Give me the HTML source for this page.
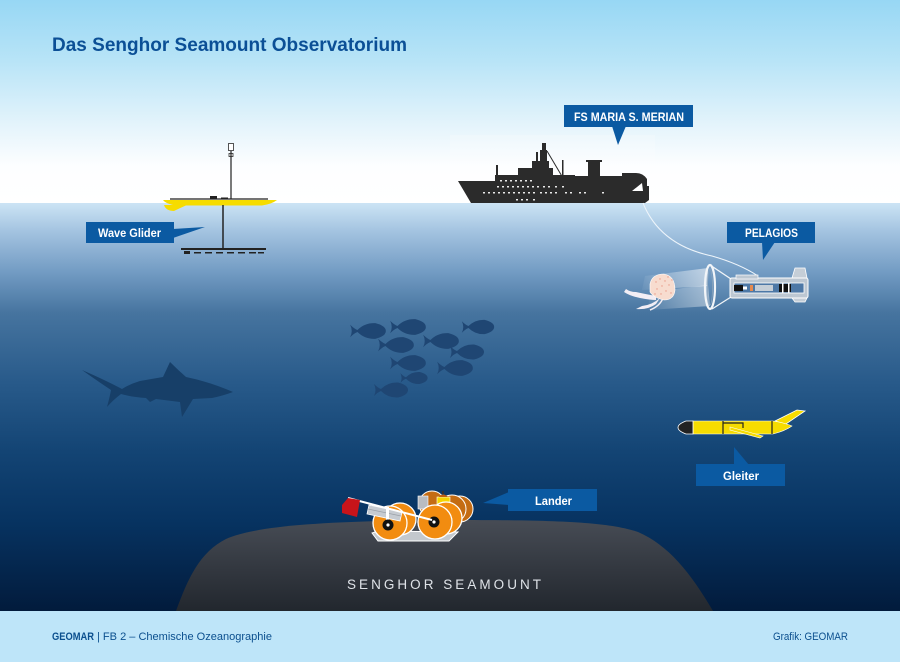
<!DOCTYPE html>
<html><head><meta charset="utf-8"><style>
html,body{margin:0;padding:0;width:900px;height:662px;overflow:hidden;background:#fff}
svg{display:block}
text{font-family:"Liberation Sans",sans-serif}
</style></head><body>
<svg width="900" height="662" viewBox="0 0 900 662" xmlns="http://www.w3.org/2000/svg">
<defs>
<linearGradient id="sky" x1="0" y1="0" x2="0" y2="1">
<stop offset="0" stop-color="#97d7f4"/>
<stop offset="0.3" stop-color="#b8e4f7"/>
<stop offset="0.6" stop-color="#e2f3fb"/>
<stop offset="0.82" stop-color="#fdfeff"/>
<stop offset="1" stop-color="#ffffff"/>
</linearGradient>
<linearGradient id="sea" x1="0" y1="203" x2="0" y2="611" gradientUnits="userSpaceOnUse">
<stop offset="0" stop-color="#cce4f5"/>
<stop offset="0.07" stop-color="#a3c3e0"/>
<stop offset="0.17" stop-color="#729bc3"/>
<stop offset="0.27" stop-color="#46749f"/>
<stop offset="0.44" stop-color="#285a8a"/>
<stop offset="0.61" stop-color="#134474"/>
<stop offset="0.78" stop-color="#073361"/>
<stop offset="1" stop-color="#021b3c"/>
</linearGradient>
<linearGradient id="mount" x1="0" y1="520" x2="0" y2="611" gradientUnits="userSpaceOnUse">
<stop offset="0" stop-color="#474c55"/>
<stop offset="0.5" stop-color="#343941"/>
<stop offset="1" stop-color="#22272e"/>
</linearGradient>
<linearGradient id="beam" x1="1" y1="0" x2="0" y2="0">
<stop offset="0" stop-color="#ffffff" stop-opacity="0.55"/>
<stop offset="1" stop-color="#ffffff" stop-opacity="0.05"/>
</linearGradient>
<path id="fish" d="M-17,-6 Q-13,-2 -10,-1 Q-3,-8 7,-7.5 Q17,-5 17,0 Q17,5 7,7.5 Q-3,8 -10,1 Q-13,2 -17,6 Q-14,0 -17,-6 Z"/>
</defs>

<!-- sky -->
<rect x="0" y="0" width="900" height="203" fill="url(#sky)"/>
<rect x="450" y="135" width="205" height="68" fill="#ffffff" opacity="0.2"/>
<!-- sea -->
<rect x="0" y="203" width="900" height="408" fill="url(#sea)"/>

<!-- title -->
<text x="52" y="51" font-size="19" font-weight="bold" fill="#0b4f96" textLength="355" lengthAdjust="spacingAndGlyphs">Das Senghor Seamount Observatorium</text>

<!-- seamount -->
<path d="M176,611 C188,578 200,552 226,539 C258,525 330,521 450,520 C560,520 608,522 638,532 C668,545 690,572 713,611 Z" fill="url(#mount)"/>
<text x="347" y="589" font-size="13.5" fill="#dfe3e8" textLength="194" lengthAdjust="spacing">SENGHOR SEAMOUNT</text>

<!-- shark -->
<path d="M82,370 Q105,380 122,389 Q130,384 140,381 L163,377 L170,362 Q178,370 186,377 Q210,382 233,392 Q222,396 212,398 L193,399 L182,417 L180,402 L156,399 L150,402 L146,398 Q132,397 121,394 Q113,400 107,407 Q110,396 111,390 Q96,380 82,370 Z" fill="#173f68"/>

<!-- fish -->
<g fill="#1f4673">
<use href="#fish" transform="translate(368,331) scale(1.05)"/>
<use href="#fish" transform="translate(408,327) scale(1.05)"/>
<use href="#fish" transform="translate(478,327) scale(0.95)"/>
<use href="#fish" transform="translate(396,345) scale(1.05)"/>
<use href="#fish" transform="translate(441,341) scale(1.05)"/>
<use href="#fish" transform="translate(467,352) scale(1.0)"/>
<use href="#fish" transform="translate(408,363) scale(1.05)"/>
<use href="#fish" transform="translate(455,368) scale(1.05)"/>
<use href="#fish" transform="translate(414,378) scale(0.8)"/>
<use href="#fish" transform="translate(391,390) scale(1.0)"/>
</g>

<!-- ship -->
<g fill="#2b2b2b">
<path d="M458,181 L495,181 L495,175 L518,175 L518,168 L532,168 L532,161 L540,161 L540,150 L542,150 L542,143 L546,143 L546,150 L547,150 L547,161 L549,161 L549,168 L553,168 L553,175 L575,175 L575,176 L588,176 L588,162 L586,162 L586,160 L602,160 L602,162 L600,162 L600,176 L622,176 L622,173 L636,173 Q643,173 647,179 L647,186 L649,186 L649,200 L645,203 L471,203 Z"/>
<rect x="496" y="165" width="2" height="10"/>
<rect x="536" y="152" width="2" height="9"/>
<rect x="562" y="160" width="1.5" height="16"/>
</g>
<line x1="547" y1="151" x2="563" y2="178" stroke="#2b2b2b" stroke-width="1"/>
<path d="M632,191 L642,183 L643,191 Z" fill="#ffffff"/>
<g fill="#e8e8e8">
<rect x="500" y="180" width="2" height="1.5"/><rect x="505" y="180" width="2" height="1.5"/><rect x="510" y="180" width="2" height="1.5"/><rect x="515" y="180" width="2" height="1.5"/><rect x="520" y="180" width="2" height="1.5"/><rect x="525" y="180" width="2" height="1.5"/><rect x="530" y="180" width="2" height="1.5"/>
<rect x="497" y="186" width="2" height="1.5"/><rect x="502" y="186" width="2" height="1.5"/><rect x="507" y="186" width="2" height="1.5"/><rect x="512" y="186" width="2" height="1.5"/><rect x="517" y="186" width="2" height="1.5"/><rect x="522" y="186" width="2" height="1.5"/><rect x="527" y="186" width="2" height="1.5"/><rect x="532" y="186" width="2" height="1.5"/><rect x="537" y="186" width="2" height="1.5"/><rect x="543" y="186" width="2" height="1.5"/><rect x="548" y="186" width="2" height="1.5"/><rect x="555" y="186" width="2" height="1.5"/><rect x="562" y="186" width="2" height="1.5"/>
<rect x="483" y="192" width="2" height="1.5"/><rect x="488" y="192" width="2" height="1.5"/><rect x="493" y="192" width="2" height="1.5"/><rect x="498" y="192" width="2" height="1.5"/><rect x="503" y="192" width="2" height="1.5"/><rect x="508" y="192" width="2" height="1.5"/><rect x="513" y="192" width="2" height="1.5"/><rect x="518" y="192" width="2" height="1.5"/><rect x="523" y="192" width="2" height="1.5"/><rect x="528" y="192" width="2" height="1.5"/><rect x="533" y="192" width="2" height="1.5"/><rect x="540" y="192" width="2" height="1.5"/><rect x="545" y="192" width="2" height="1.5"/><rect x="550" y="192" width="2" height="1.5"/><rect x="555" y="192" width="2" height="1.5"/><rect x="565" y="192" width="2" height="1.5"/><rect x="570" y="192" width="2" height="1.5"/><rect x="579" y="192" width="2" height="1.5"/><rect x="584" y="192" width="2" height="1.5"/><rect x="602" y="192" width="2" height="1.5"/>
<rect x="516" y="199" width="2" height="1.5"/><rect x="521" y="199" width="2" height="1.5"/><rect x="526" y="199" width="2" height="1.5"/><rect x="533" y="199" width="2" height="1.5"/>
</g>

<!-- cable -->
<path d="M643,203 Q660,245 712,256 Q740,264 758,276" fill="none" stroke="#eef5fb" stroke-width="1"/>

<!-- wave glider -->
<g>
<rect x="228.5" y="143.5" width="5" height="7" fill="#fff" stroke="#2b2b2b" stroke-width="0.8"/>
<rect x="229" y="153.5" width="4" height="3" fill="#fff" stroke="#2b2b2b" stroke-width="0.8"/>
<line x1="231" y1="151" x2="231" y2="199" stroke="#222" stroke-width="1.2"/>
<line x1="170" y1="199" x2="268" y2="199" stroke="#222" stroke-width="1.2"/>
<rect x="210" y="196" width="7" height="3" fill="#222"/>
<rect x="221" y="197.5" width="7" height="1.5" fill="#222"/>
<path d="M163,200 L277,200 Q272,204 262,205.5 L176,205.5 Q166,204 163,200 Z" fill="#f6dc00"/>
<path d="M164,205 L187,205 Q180,208 174,211 Q166,211 164,205 Z" fill="#f6dc00"/>
<line x1="223" y1="205" x2="223" y2="248" stroke="#222" stroke-width="1.5"/>
<rect x="181" y="248" width="85" height="2" fill="#222"/>
<rect x="184" y="251" width="6" height="3" fill="#222"/>
<g fill="#222"><rect x="194" y="252" width="7" height="1.5"/><rect x="205" y="252" width="7" height="1.5"/><rect x="216" y="252" width="7" height="1.5"/><rect x="227" y="252" width="7" height="1.5"/><rect x="238" y="252" width="7" height="1.5"/><rect x="249" y="252" width="7" height="1.5"/><rect x="258" y="252" width="6" height="1.5"/></g>
</g>

<!-- pelagios beams and jellyfish -->
<path d="M708,268 L645,276 L642,290 L708,286 Z" fill="url(#beam)"/>
<path d="M708,285 L650,292 L648,310 L710,306 Z" fill="url(#beam)" opacity="0.8"/>
<g>
<path d="M656,296 Q645,294 636,292 Q630,292 626,289 L624,292 Q630,296 640,298 Q650,300 656,300 Z" fill="#f2eef5"/>
<path d="M660,298 Q652,305 642,306 L636,309 Q648,310 656,304 Z" fill="#f2eef5"/>
<path d="M663,298 Q660,306 650,310" fill="none" stroke="#f2eef5" stroke-width="1.5"/>
<path d="M650,284 Q652,274 664,274 Q675,276 675,290 Q674,300 664,300 Q654,298 650,292 Z" fill="#f7dccf" stroke="#fff" stroke-width="0.6"/>
<g fill="#e99a88"><circle cx="656" cy="282" r="0.7"/><circle cx="660" cy="279" r="0.7"/><circle cx="665" cy="281" r="0.7"/><circle cx="669" cy="285" r="0.7"/><circle cx="662" cy="286" r="0.7"/><circle cx="657" cy="289" r="0.7"/><circle cx="666" cy="291" r="0.7"/><circle cx="671" cy="293" r="0.7"/><circle cx="661" cy="294" r="0.7"/><circle cx="655" cy="294" r="0.7"/><circle cx="668" cy="277" r="0.7"/><circle cx="672" cy="280" r="0.7"/></g>
</g>

<!-- pelagios -->
<g>
<line x1="710" y1="265" x2="731" y2="279" stroke="#f2f5f8" stroke-width="1.3"/>
<line x1="712" y1="309" x2="731" y2="297" stroke="#f2f5f8" stroke-width="1.3"/>
<ellipse cx="710" cy="287" rx="5" ry="22" fill="none" stroke="#f2f5f8" stroke-width="2.2"/>
<ellipse cx="710" cy="287" rx="2.5" ry="18" fill="none" stroke="#8aa4bd" stroke-width="0.8"/>
<path d="M792,278 L795,268 L805,268 L807,278 Z" fill="#c5ced7" stroke="#fff" stroke-width="0.8"/>
<path d="M792,298 L795,302 L805,302 L807,298 Z" fill="#c5ced7" stroke="#fff" stroke-width="0.8"/>
<rect x="730" y="278" width="78" height="20" rx="2" fill="#bcc7d2" stroke="#fff" stroke-width="1"/>
<rect x="736" y="275" width="22" height="4" fill="#bcc7d2" stroke="#fff" stroke-width="0.7"/>
<rect x="734" y="283" width="70" height="10" fill="#4d78a6" stroke="#fff" stroke-width="0.8"/>
<rect x="755" y="285" width="18" height="6" fill="#c5ced7"/>
<rect x="734" y="285" width="9" height="6" fill="#111"/>
<rect x="743" y="286.5" width="4" height="3" fill="#fff"/>
<rect x="750" y="285" width="3" height="6" fill="#e58a50"/>
<rect x="779" y="284" width="12" height="8" fill="#111"/>
<rect x="782" y="283" width="1.5" height="10" fill="#fff"/>
<rect x="788" y="283" width="1.5" height="10" fill="#fff"/>
</g>

<!-- gleiter -->
<g>
<path d="M775,421 L797,410 L805,411 L786,424 Z" fill="#f6dc00" stroke="#fff" stroke-width="0.8"/>
<path d="M693,421 L773,421 Q785,423 792,426 Q785,431 773,434 L693,434 Z" fill="#f6dc00" stroke="#fff" stroke-width="0.6"/>
<path d="M693,421 L686,421 Q678,424 678,427.5 Q678,431 686,434 L693,434 Z" fill="#222" stroke="#fff" stroke-width="0.8"/>
<path d="M730,427 L763,436 L760,438 L730,430 Z" fill="#f6dc00" stroke="#fff" stroke-width="0.6"/>
<line x1="723" y1="421" x2="723" y2="434" stroke="#222" stroke-width="1.2"/>
<line x1="772" y1="421" x2="772" y2="434" stroke="#222" stroke-width="1.2"/>
<path d="M723,423 L743,423 L743,428" fill="none" stroke="#222" stroke-width="1.2"/>
</g>

<!-- lander -->
<g>
<path d="M372,533 L378,541 L449,541 L458,532 L378,531 Z" fill="#c3c8cd" stroke="#fff" stroke-width="1"/>
<circle cx="432" cy="504" r="13" fill="#c46c13" stroke="#fff" stroke-width="1"/>
<circle cx="460" cy="509" r="13" fill="#c46c13" stroke="#fff" stroke-width="1"/>
<circle cx="452" cy="509" r="14" fill="#c46c13" stroke="#fff" stroke-width="1"/>
<rect x="418" y="496" width="10" height="13" fill="#b9bcc0" stroke="#fff" stroke-width="0.6"/>
<rect x="437" y="497" width="13" height="9" fill="#f5d400" stroke="#fff" stroke-width="0.6"/>
<path d="M439,497 Q443,492 448,497 Z" fill="#c06010"/>
<rect x="442" y="491" width="2" height="3" fill="#333"/>
<circle cx="400" cy="519" r="16" fill="#f28c10" stroke="#fff" stroke-width="1.3"/>
<circle cx="390" cy="523" r="17" fill="#f28c10" stroke="#fff" stroke-width="1.3"/>
<circle cx="446" cy="518" r="16" fill="#f28c10" stroke="#fff" stroke-width="1.3"/>
<circle cx="435" cy="522" r="17" fill="#f28c10" stroke="#fff" stroke-width="1.3"/>
<path d="M369,505 L402,512 L400,521 L367,514 Z" fill="#c6cbd1" stroke="#fff" stroke-width="0.8"/>
<line x1="368" y1="509" x2="401" y2="516" stroke="#9aa0a8" stroke-width="0.7"/>
<rect x="386" y="507" width="3" height="18" fill="#fff"/>
<circle cx="388" cy="525" r="5.5" fill="#111"/><circle cx="388" cy="525" r="1.6" fill="#fff"/>
<circle cx="434" cy="522" r="5.5" fill="#111"/><circle cx="434" cy="522" r="1.6" fill="#fff"/>
<line x1="348" y1="498" x2="432" y2="520" stroke="#fff" stroke-width="2"/>
<path d="M342,505 L348,498 L360,500 L357,517 L342,513 Z" fill="#c8141a"/>
</g>

<!-- labels -->
<g fill="#0b5aa2">
<rect x="564" y="105" width="129" height="22"/>
<path d="M612,126 L626,126 L618,145 Z"/>
<rect x="727" y="222" width="88" height="21"/>
<path d="M762,242 L775,242 L763,260 Z"/>
<rect x="86" y="222" width="88" height="21"/>
<path d="M173,229 L205,227 L173,238 Z"/>
<rect x="508" y="489" width="89" height="22"/>
<path d="M509,492 L483,503 L509,505 Z"/>
<rect x="696" y="464" width="89" height="22"/>
<path d="M734,465 L734,447 L749,465 Z"/>
</g>
<g fill="#ffffff" font-size="12" font-weight="bold">
<text x="574" y="121" textLength="110" lengthAdjust="spacingAndGlyphs">FS MARIA S. MERIAN</text>
<text x="745" y="237" textLength="53" lengthAdjust="spacingAndGlyphs">PELAGIOS</text>
<text x="98" y="237" textLength="63" lengthAdjust="spacingAndGlyphs">Wave Glider</text>
<text x="535" y="505" textLength="37" lengthAdjust="spacingAndGlyphs">Lander</text>
<text x="723" y="480" textLength="36" lengthAdjust="spacingAndGlyphs">Gleiter</text>
</g>

<!-- footer -->
<rect x="0" y="611" width="900" height="51" fill="#bee5f9"/>
<text x="52" y="640" font-size="11" fill="#0b4f8e" font-weight="bold" textLength="42" lengthAdjust="spacingAndGlyphs">GEOMAR</text>
<text x="97" y="640" font-size="11" fill="#0b4f8e" textLength="175" lengthAdjust="spacingAndGlyphs">| FB 2 –  Chemische Ozeanographie</text>
<text x="773" y="640" font-size="11" fill="#0b4f8e" textLength="75" lengthAdjust="spacingAndGlyphs">Grafik: GEOMAR</text>
</svg>
</body></html>
